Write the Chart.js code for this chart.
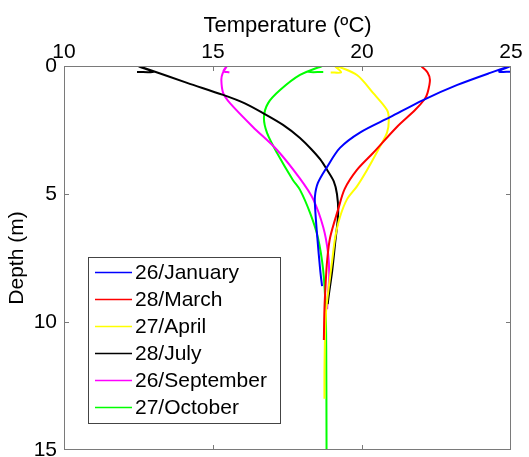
<!DOCTYPE html>
<html>
<head>
<meta charset="utf-8">
<script src="https://cdn.jsdelivr.net/npm/chart.js@4/dist/chart.umd.min.js"></script>
<style>
  body { margin: 0; background: #fff; }
  canvas { display: block; }
</style>
</head>
<body>
<canvas id="profileChart" width="529" height="457"></canvas>
<script>
// Temperature profiles (ºC) against depth (m)
const seriesLabels = ['26/January', '28/March', '27/April', '28/July', '26/September', '27/October'];

const janTemp  = [25.0, 24.6, 25.0, 24.3, 23.2, 22.05, 20.94, 19.93, 19.26, 18.83, 18.52, 18.42, 18.43, 18.5, 18.6, 18.66];
const janDepth = [0.22, 0.22, 0.0, 0.27, 0.74, 1.33, 2.0, 2.6, 3.2, 3.94, 4.57, 5.1, 5.6, 6.7, 8.0, 8.6];

const marTemp  = [22.0, 22.2, 22.28, 22.2, 22.1, 21.78, 21.17, 20.37, 19.83, 19.42, 19.2, 18.93, 18.83, 18.78, 18.74, 18.72];
const marDepth = [0.02, 0.25, 0.55, 1.05, 1.3, 1.72, 2.38, 3.4, 4.06, 4.8, 5.6, 6.7, 7.6, 8.5, 9.5, 10.7];

const aprTemp  = [18.95, 19.3, 19.1, 19.83, 20.37, 20.84, 20.9, 20.84, 20.54, 20.17, 19.83, 19.5, 19.26, 19.1, 19.0, 18.9, 18.8, 18.76, 18.74, 18.74];
const aprDepth = [0.25, 0.25, 0.0, 0.35, 1.05, 1.72, 2.1, 2.6, 3.28, 4.06, 4.7, 5.2, 5.9, 6.7, 7.6, 8.5, 9.5, 10.5, 12.0, 13.0];

const julTemp  = [12.45, 13.0, 12.5, 14.13, 15.34, 16.05, 16.68, 17.35, 17.92, 18.3, 18.6, 18.83, 19.05, 19.16, 19.2, 19.1, 19.0, 18.88, 18.85];
const julDepth = [0.23, 0.23, 0.0, 0.66, 1.13, 1.45, 1.84, 2.3, 2.81, 3.25, 3.65, 4.06, 4.5, 5.0, 5.75, 6.9, 8.0, 9.0, 9.3];

const sepTemp  = [15.55, 15.35, 15.47, 15.32, 15.28, 15.34, 15.57, 16.34, 17.15, 17.92, 18.36, 18.7, 18.86, 18.9, 18.85, 18.83];
const sepDepth = [0.25, 0.2, 0.0, 0.3, 0.55, 1.05, 1.45, 2.38, 3.28, 4.4, 5.2, 6.3, 7.3, 8.2, 9.0, 9.5];

const octTemp  = [18.7, 18.19, 18.66, 17.92, 17.25, 16.85, 16.71, 16.81, 17.15, 17.68, 17.92, 18.26, 18.52, 18.7, 18.78, 18.8, 18.81];
const octDepth = [0.23, 0.23, 0.0, 0.35, 0.94, 1.45, 2.0, 2.6, 3.4, 4.45, 4.84, 5.75, 6.7, 8.0, 9.5, 11.0, 15.0];

const tempTicks = [10, 15, 20, 25];
const depthTicks = [0, 5, 10, 15];

const lineColors = ['#0000ff', '#ff0000', '#ffff00', '#000000', '#ff00ff', '#00ff00'];

function toPoints(temps, depths) {
    return temps.map((t, i) => ({ x: t, y: depths[i] }));
}

const profiles = [
    toPoints(janTemp, janDepth),
    toPoints(marTemp, marDepth),
    toPoints(aprTemp, aprDepth),
    toPoints(julTemp, julDepth),
    toPoints(sepTemp, sepDepth),
    toPoints(octTemp, octDepth)
];

const FONT = 'Liberation Sans, Arial, sans-serif';

// box round the plot with small inward ticks (matlab style)
const framePlugin = {
    id: 'frame',
    afterDatasetsDraw(chart) {
        const { ctx, chartArea: a, scales } = chart;
        ctx.save();
        ctx.strokeStyle = '#7a7a7a';
        ctx.lineWidth = 1;
        ctx.strokeRect(a.left + 0.5, a.top + 0.5, a.right - a.left - 1, a.bottom - a.top - 1);
        ctx.beginPath();
        tempTicks.slice(1, -1).forEach(v => {
            const px = Math.round(scales.x.getPixelForValue(v)) + 0.5;
            ctx.moveTo(px, a.top); ctx.lineTo(px, a.top + 5);
            ctx.moveTo(px, a.bottom); ctx.lineTo(px, a.bottom - 5);
        });
        depthTicks.slice(1, -1).forEach(v => {
            const py = Math.round(scales.y.getPixelForValue(v)) + 0.5;
            ctx.moveTo(a.left, py); ctx.lineTo(a.left + 5, py);
            ctx.moveTo(a.right, py); ctx.lineTo(a.right - 5, py);
        });
        ctx.stroke();
        ctx.restore();
    }
};

// legend box inside the plot, lower left
const legendBoxPlugin = {
    id: 'legendBox',
    afterDraw(chart) {
        const ctx = chart.ctx;
        const x0 = 88, y0 = 257, w = 192, h = 166;
        const rowH = 27, firstRow = 272;
        ctx.save();
        ctx.fillStyle = '#fff';
        ctx.fillRect(x0, y0, w, h);
        ctx.strokeStyle = '#444';
        ctx.lineWidth = 1;
        ctx.strokeRect(x0 + 0.5, y0 + 0.5, w, h);
        ctx.font = '21px ' + FONT;
        ctx.textBaseline = 'middle';
        chart.data.datasets.forEach((ds, i) => {
            const y = firstRow + i * rowH;
            ctx.strokeStyle = ds.borderColor;
            ctx.lineWidth = 1.5;
            ctx.beginPath();
            ctx.moveTo(95, y + 0.5);
            ctx.lineTo(132, y + 0.5);
            ctx.stroke();
            ctx.fillStyle = '#000';
            ctx.fillText(ds.label, 135, y + 1);
        });
        ctx.restore();
    }
};

const ctx = document.getElementById('profileChart').getContext('2d');
const chart = new Chart(ctx, {
    type: 'scatter',
    data: {
        datasets: profiles.map((pts, i) => ({
            label: seriesLabels[i],
            data: pts,
            showLine: true,
            borderColor: lineColors[i],
            backgroundColor: lineColors[i],
            borderWidth: 2,
            pointRadius: 0,
            tension: 0.3
        }))
    },
    options: {
        responsive: false,
        animation: false,
        layout: { padding: { top: 0, left: 0, right: 18, bottom: 7 } },
        plugins: {
            legend: { display: false },
            tooltip: { enabled: false }
        },
        scales: {
            x: {
                type: 'linear',
                position: 'top',
                min: 10,
                max: 25,
                afterFit(axis) { axis.height = 66; axis.paddingLeft = 0; axis.paddingRight = 0; },
                afterBuildTicks(axis) { axis.ticks = tempTicks.map(v => ({ value: v })); },
                grid: { display: false, drawTicks: false },
                border: { display: false },
                ticks: { color: '#000', padding: 1, font: { family: FONT, size: 21 } },
                title: {
                    display: true,
                    text: 'Temperature (ºC)',
                    color: '#000',
                    font: { family: FONT, size: 22 },
                    padding: { top: 13, bottom: 0 }
                }
            },
            y: {
                type: 'linear',
                position: 'left',
                reverse: true,
                min: 0,
                max: 15,
                afterFit(axis) { axis.width = 64; axis.paddingTop = 0; axis.paddingBottom = 0; },
                afterBuildTicks(axis) { axis.ticks = depthTicks.map(v => ({ value: v })); },
                grid: { display: false, drawTicks: false },
                border: { display: false },
                ticks: { color: '#000', padding: 7, font: { family: FONT, size: 21 } },
                title: {
                    display: true,
                    text: 'Depth (m)',
                    color: '#000',
                    font: { family: FONT, size: 21 },
                    padding: { top: 5, bottom: 0 }
                }
            }
        }
    },
    plugins: [framePlugin, legendBoxPlugin]
});
</script>
</body>
</html>
